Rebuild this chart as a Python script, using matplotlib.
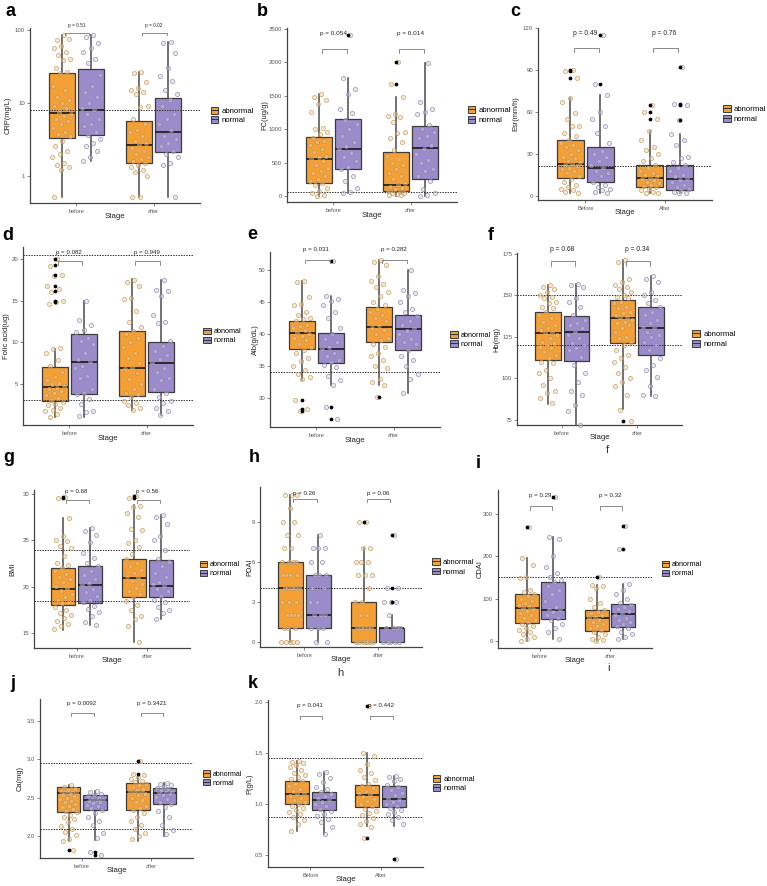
import numpy as np
import matplotlib
matplotlib.use("Agg")
import matplotlib.pyplot as plt
from matplotlib.patches import Patch
from matplotlib.lines import Line2D
from matplotlib.legend_handler import HandlerTuple

plt.rcParams["font.family"] = ["Liberation Sans", "DejaVu Sans"]

W, H = 767, 886
ORANGE = "#F5A035"
PURPLE = "#9C8BCB"
EDGE = "#3c3c3c"

# ---------------- data ----------------
# box stats per group: (q1, median, q3, whisker_low, whisker_high)
# group order: before-abnormal, before-normal, after-abnormal, after-normal

# a: CRP
a_bef_abn = [85, 72, 74, 60, 55, 50, 45, 40, 38, 30, 26, 25, 17, 15, 12, 11, 10, 9, 8.5, 7.5, 7, 6.5, 6, 5.5, 5,
             4.5, 4, 3.7, 3.5, 3, 2.5, 2.2, 2, 1.8, 1.5, 1.4, 1.3, 1.2, 0.5]
a_bef_nor = [85, 78, 65, 55, 50, 40, 35, 24, 17, 14, 12, 10, 8.5, 8, 7, 6, 5, 4.8, 4, 3.6, 3.2, 2.8, 2.5, 2.2, 1.8, 1.6]
a_aft_abn = [26, 25, 19, 16, 15, 14, 13, 9, 8.8, 6, 5, 4.2, 4, 3.5, 3, 2.8, 2.6, 2.4, 2.2, 2, 1.8, 1.7, 1.6, 1.5,
             1.4, 1.3, 1.2, 1.1, 1.0, 0.5, 0.5]
a_aft_nor = [68, 65, 47, 30, 23, 20, 15, 13, 11, 9, 7, 6, 5, 4.2, 3.5, 3.2, 2.8, 2.5, 2.2, 2, 1.8, 1.5, 1.4, 0.5]
a_box = [(3.3, 7.2, 25, 0.5, 85), (3.6, 8, 29, 1.6, 85), (1.5, 2.6, 5.6, 0.5, 26), (2.1, 4, 11.5, 0.5, 68)]
a_out = [[], [], [], []]
a_p = ["p = 0.51", "p = 0.02"]

# b: FC
b_bef_abn = [1520, 1480, 1440, 1380, 1260, 1020, 1000, 960, 920, 860, 820, 800, 760, 700, 660, 600, 580, 560, 520,
             460, 420, 380, 340, 300, 260, 220, 200, 160, 120, 80, 40, 10, 0]
b_bef_nor = [2400, 1760, 1600, 1520, 1300, 1240, 1130, 1080, 1000, 900, 800, 740, 700, 640, 580, 520, 440, 400, 300,
             220, 120, 60, 50]
b_aft_abn = [2000, 1680, 1480, 1230, 1200, 1180, 1100, 960, 940, 860, 800, 680, 600, 560, 500, 460, 400, 340, 300,
             250, 200, 160, 140, 120, 100, 80, 60, 50, 40, 30, 20, 10]
b_aft_nor = [1980, 1400, 1300, 1250, 1220, 1060, 1000, 950, 900, 860, 760, 700, 620, 540, 500, 400, 380, 300, 220,
             100, 50, 20, 0]
b_box = [(200, 560, 880, 0, 1520), (400, 700, 1150, 50, 1760), (80, 160, 660, 0, 1480), (260, 710, 1040, 0, 1980)]
b_out = [[], [2400], [1680, 2000], []]
b_p = ["p = 0.054", "p = 0.014"]

# c: Esr
c_bef_abn = [90, 89, 84, 70, 67, 59, 55, 50, 50, 45, 43, 40, 38, 36, 35, 33, 30, 28, 27, 25, 24, 23, 22, 21, 20, 19,
             18, 16, 14, 12, 10, 8, 6, 5, 4, 3, 2]
c_bef_nor = [115, 80, 72, 60, 55, 50, 45, 38, 32, 30, 28, 25, 22, 20, 18, 16, 14, 10, 8, 6, 5, 4, 3, 2]
c_aft_abn = [65, 60, 55, 46, 40, 35, 33, 30, 27, 25, 22, 20, 18, 16, 15, 14, 13, 12, 11, 10, 9, 8, 7, 6, 5, 4, 3, 2, 2]
c_aft_nor = [92, 66, 65, 54, 44, 40, 36, 28, 27, 24, 22, 20, 18, 15, 14, 12, 11, 10, 8, 6, 5, 4, 3, 2, 2]
c_box = [(13, 23, 40, 2, 70), (10, 20, 35, 2, 72), (6, 13, 22, 2, 46), (4, 12, 22, 2, 44)]
c_out = [[84, 89, 90], [80, 115], [55, 60, 65], [54, 65, 66, 92]]
c_p = ["p = 0.49", "p = 0.76"]

# d: Folic acid
d_bef_abn = [20, 19.1, 18, 17.9, 16.7, 16.4, 16, 15, 14.8, 14.6, 9.3, 9.2, 8.8, 7.9, 7.2, 6.5, 5.9, 5.5, 5.2, 5.0,
             4.8, 4.6, 4.4, 4.2, 4.0, 3.7, 3.4, 3.1, 2.9, 2.7, 2.5, 2.2, 2.0, 1.8, 1.5, 1.1]
d_bef_nor = [14.9, 12.7, 12.1, 11.5, 11.3, 10.5, 10.2, 9.8, 8.7, 8.0, 7.7, 7.2, 7.0, 6.0, 5.8, 4.5, 4.0, 3.8, 3.3,
             2.7, 1.8, 1.7, 1.2]
d_aft_abn = [17.5, 17.2, 16.8, 15.3, 15.2, 13.8, 12.5, 11.8, 11.4, 11.0, 10.5, 10.1, 9.5, 8.7, 8.2, 7.5, 7.0, 6.8,
             6.4, 5.6, 5.0, 4.5, 4.0, 3.8, 3.5, 3.0, 2.8, 2.5, 2.2, 2.0]
d_aft_nor = [17.5, 16.3, 16.1, 15.6, 13.3, 12.5, 12.3, 10.2, 9.6, 9.0, 8.5, 8.0, 7.5, 7.0, 6.5, 5.8, 5.5, 4.5, 4.0,
             3.5, 3.0, 2.8, 2.2, 1.8, 1.3]
d_box = [(3.0, 4.7, 7.1, 1.1, 9.2), (3.9, 7.7, 11.05, 1.1, 14.9), (3.6, 7.0, 11.4, 2.0, 17.6), (4.1, 7.6, 10.0, 1.3, 17.5)]
d_out = [[14.8, 15, 16.2, 16.7, 18, 19.2, 20], [], [], []]
d_p = ["p = 0.082", "p = 0.949"]

# e: Alb
e_bef_abn = [48.3, 48.2, 45.8, 44.7, 44.5, 43.5, 43.0, 42.6, 42.4, 42.0, 41.5, 41.2, 41.0, 40.6, 40.3, 40.0, 39.7,
             39.4, 39.0, 38.5, 38.0, 37.5, 37.0, 36.3, 35.7, 35.0, 34.3, 33.8, 33.3, 32.9, 29.6, 28.2, 27.9]
e_bef_nor = [51.5, 46.0, 45.5, 45.2, 44.5, 43.5, 42.5, 41.0, 40.0, 39.3, 38.8, 38.0, 37.7, 37.0, 36.6, 36.0, 35.6,
             35.2, 34.8, 33.4, 32.8, 32.0, 28.5, 26.7]
e_aft_abn = [51.7, 51.3, 50.8, 49.2, 48.3, 47.9, 47.4, 46.6, 46.0, 45.0, 44.5, 44.0, 43.5, 43.0, 42.5, 42.0, 41.5,
             41.0, 40.6, 40.0, 39.4, 39.0, 38.5, 38.0, 37.0, 36.5, 36.0, 35.0, 34.6, 33.0, 32.5, 32.0, 30.1]
e_aft_nor = [50.0, 47.0, 46.5, 46.0, 45.0, 44.0, 43.5, 42.8, 42.0, 41.5, 41.0, 40.5, 40.0, 39.2, 38.8, 38.5, 37.5,
             36.5, 36.0, 35.0, 33.8, 33.0, 30.8]
e_box = [(37.7, 40.1, 42.1, 32.8, 48.3), (35.5, 37.7, 40.1, 32.0, 46.0), (38.7, 41.1, 44.2, 32.0, 51.7),
         (37.5, 40.8, 43.0, 30.8, 50.0)]
e_out = [[27.9, 28.2, 29.6], [26.7, 28.5, 51.5], [30.1], []]
e_p = ["p = 0.031", "p = 0.282"]

# f: Hb
f_bef_abn = [156, 155, 154, 152, 150, 149, 148, 146, 145, 143, 142, 140, 138, 136, 134, 132, 130, 129, 128, 127, 126,
             124, 122, 121, 120, 119, 118, 116, 114, 112, 110, 109, 105, 103, 100, 96, 92, 91, 88, 85]
f_bef_nor = [156.7, 156, 155, 148, 146, 143, 138, 135, 133, 132, 130, 128, 126, 124, 121, 120, 118, 117, 113, 108,
             103, 98, 92, 90, 84, 80, 72]
f_aft_abn = [171, 170, 160, 158, 156, 155, 154, 152, 150, 149, 148, 146, 145, 143, 142, 140, 139, 138, 137, 136, 135,
             134, 133, 132, 130, 128, 125, 124, 122, 120, 117, 114, 112, 110, 107, 103, 100, 98, 95, 90, 81, 74]
f_aft_nor = [161.5, 160, 158, 152, 150, 147, 145, 143, 140, 138, 135, 133, 131, 130, 128, 126, 125, 122, 120, 117,
             112, 108, 105, 101, 95, 90, 89]
f_box = [(111, 127.5, 140, 84.6, 156), (110.4, 127.7, 137.5, 72, 156.7), (121, 136, 147, 81.5, 171),
         (114, 130, 142.7, 89, 161.5)]
f_out = [[], [], [74], []]
f_p = ["p = 0.68", "p = 0.34"]

# g: BMI
g_bef_abn = [29.7, 29.5, 27.4, 25.5, 25.0, 24.9, 24.4, 24.2, 23.3, 22.5, 22.3, 22.0, 21.7, 21.4, 21.0, 20.8, 20.5,
             20.1, 19.8, 19.5, 19.2, 18.9, 18.6, 18.4, 18.2, 17.8, 17.5, 17.2, 16.9, 16.6, 16.3, 16.0, 15.8, 15.4]
g_bef_nor = [26.3, 26.0, 25.6, 24.8, 23.6, 23.1, 22.5, 22.2, 21.7, 21.3, 20.8, 20.4, 20.2, 19.8, 19.4, 19.0, 18.6,
             18.3, 17.9, 17.6, 17.3, 16.8, 16.2, 15.9]
g_aft_abn = [29.8, 29.5, 28.7, 28.6, 27.9, 27.5, 26.2, 26.1, 25.0, 24.7, 24.3, 23.5, 23.0, 22.5, 22.2, 21.8, 21.5,
             21.2, 20.9, 20.6, 20.3, 19.9, 19.5, 19.2, 18.9, 18.5, 18.0, 17.5, 16.8, 16.5, 15.8, 14.0]
g_aft_nor = [27.7, 27.5, 26.7, 25.4, 25.0, 23.9, 23.0, 22.7, 22.2, 21.5, 21.0, 20.5, 20.3, 20.1, 19.8, 19.5, 19.0,
             18.6, 18.3, 17.8, 17.5, 17.2, 16.5]
g_box = [(18.0, 19.8, 22.0, 15.3, 27.4), (18.2, 20.2, 22.2, 15.9, 26.3), (18.9, 20.9, 23.0, 14.0, 28.75),
         (18.9, 20.1, 22.9, 16.5, 27.7)]
g_out = [[29.5, 29.7], [], [29.5, 29.8], []]
g_p = ["p = 0.68", "p = 0.56"]

# h: PDAI
h_bef_abn = [11, 11, 11, 10, 9, 9, 8, 8, 7, 7, 6, 6, 6, 6, 5, 5, 5, 5, 4, 4, 4, 4, 4, 3, 3, 3, 2, 2, 2, 2, 1, 1, 1,
             0, 0, 0, 0, 0]
h_bef_nor = [8, 7, 7, 7, 6, 6, 5, 5, 5, 4, 4, 3, 3, 2, 2, 2, 1, 1, 1, 0, 0]
h_aft_abn = [9, 9, 7, 7, 6, 6, 6, 5, 5, 5, 4, 3, 3, 2, 2, 1, 1, 1, 1, 1, 0, 0, 0, 0, 0, 0, 0]
h_aft_nor = [8, 4, 4, 3, 3, 3, 2, 1, 1, 1, 1, 0, 0, 0, 0, 0]
h_box = [(1, 4, 6, 0, 11), (1, 2, 5, 0, 8), (0, 1, 3, 0, 7), (0, 1, 1, 0, 2)]
h_out = [[], [], [9], [3, 4, 8]]
h_p = ["p = 0.26", "p = 0.06"]

# i: CDAI
i_bef_abn = [270, 196, 180, 150, 148, 120, 115, 110, 105, 100, 95, 90, 85, 82, 78, 75, 70, 65, 60, 55, 50, 45, 40,
             35, 30, 25, 20, 15, 10, 5, 0]
i_bef_nor = [340, 245, 240, 200, 175, 160, 150, 145, 140, 130, 120, 110, 95, 80, 75, 72, 68, 60, 55, 50, 40, 30, 20, 5]
i_aft_abn = [150, 133, 130, 125, 100, 90, 80, 73, 68, 65, 60, 56, 54, 50, 45, 40, 35, 30, 25, 20, 15, 10, 5, 2, 0]
i_aft_nor = [272, 218, 135, 120, 110, 100, 90, 85, 80, 75, 70, 65, 60, 55, 50, 45, 40, 35, 30, 20, 15, 10, 5]
i_box = [(42, 78, 110, 0, 196), (52, 73, 140, 4, 245), (24, 54, 73, 0, 133), (32, 64, 86, 5, 135)]
i_out = [[270], [340], [150], [218, 272]]
i_p = ["p = 0.29", "p = 0.32"]

# j: Ca
j_bef_abn = [2.66, 2.64, 2.62, 2.60, 2.59, 2.58, 2.57, 2.56, 2.55, 2.54, 2.52, 2.50, 2.48, 2.46, 2.44, 2.42, 2.40,
             2.38, 2.35, 2.33, 2.31, 2.28, 2.25, 2.22, 2.18, 2.14, 2.10, 2.06, 2.02, 1.97, 1.94, 1.83]
j_bef_nor = [2.59, 2.57, 2.55, 2.53, 2.52, 2.50, 2.49, 2.48, 2.47, 2.46, 2.45, 2.43, 2.41, 2.39, 2.37, 2.34, 2.30,
             2.25, 2.20, 2.15, 2.05, 1.98, 1.80, 1.76]
j_aft_abn = [2.98, 2.81, 2.80, 2.77, 2.74, 2.72, 2.70, 2.68, 2.66, 2.64, 2.62, 2.60, 2.59, 2.58, 2.57, 2.55, 2.53,
             2.50, 2.47, 2.44, 2.40, 2.37, 2.34, 2.30, 2.25, 2.20, 2.15, 2.10, 2.05, 2.00, 1.96]
j_aft_nor = [2.69, 2.68, 2.66, 2.64, 2.63, 2.62, 2.60, 2.58, 2.57, 2.56, 2.55, 2.53, 2.51, 2.48, 2.45, 2.42, 2.38,
             2.33, 2.25, 2.15, 2.08, 2.03]
j_box = [(2.31, 2.56, 2.64, 1.94, 2.66), (2.34, 2.47, 2.53, 1.95, 2.59), (2.34, 2.58, 2.69, 1.94, 2.78),
         (2.42, 2.56, 2.63, 2.01, 2.69)]
j_out = [[1.83], [1.76, 1.80], [2.81, 2.98], []]
j_p = ["p = 0.0092", "p = 0.3421"]

# k: P
k_bef_abn = [1.42, 1.41, 1.40, 1.38, 1.36, 1.33, 1.30, 1.28, 1.26, 1.24, 1.22, 1.20, 1.18, 1.15, 1.13, 1.11, 1.10,
             1.08, 1.06, 1.04, 1.02, 1.00, 0.98, 0.96, 0.94, 0.92, 0.90, 0.87, 0.84, 0.80, 0.73]
k_bef_nor = [1.31, 1.29, 1.25, 1.21, 1.17, 1.15, 1.12, 1.10, 1.08, 1.06, 1.04, 1.02, 1.00, 0.98, 0.95, 0.93, 0.90,
             0.88, 0.85, 0.82, 0.77, 0.70]
k_aft_abn = [1.96, 1.50, 1.47, 1.39, 1.33, 1.30, 1.26, 1.23, 1.20, 1.18, 1.16, 1.13, 1.11, 1.09, 1.07, 1.05, 1.03,
             1.00, 0.98, 0.95, 0.93, 0.91, 0.89, 0.86, 0.83, 0.80, 0.77, 0.66]
k_aft_nor = [1.27, 1.26, 1.24, 1.22, 1.19, 1.17, 1.14, 1.11, 1.09, 1.06, 1.04, 1.02, 1.00, 0.98, 0.96, 0.94, 0.92,
             0.90, 0.87, 0.84, 0.80, 0.46]
k_box = [(1.0, 1.10, 1.225, 0.73, 1.42), (0.94, 1.04, 1.12, 0.70, 1.31), (0.97, 1.09, 1.19, 0.78, 1.50),
         (0.97, 1.05, 1.18, 0.78, 1.27)]
k_out = [[], [], [0.66, 1.96], [0.46]]
k_p = ["p = 0.041", "p = 0.442"]

# ---------------- layout / styling per panel ----------------
# rect in pixels: (left, top, right, bottom)
panels = [
    dict(key="a", pts=[a_bef_abn, a_bef_nor, a_aft_abn, a_aft_nor], box=a_box, out=a_out, p=a_p,
         rect=(30, 28, 200, 203), ylim=(0.42, 105), yticks=[1, 10, 100], log=True, hl=[8],
         br=(90, 84, 112), ylabel="CRP(mg/L)", ylx=8, xt=["before", "after"], letter=(10, 12),
         psize=3.4, legsize=5.6),
    dict(key="b", pts=[b_bef_abn, b_bef_nor, b_aft_abn, b_aft_nor], box=b_box, out=b_out, p=b_p,
         rect=(287, 28, 457, 202), ylim=(-90, 2510), yticks=[0, 500, 1000, 1500, 2000, 2500], hl=[60],
         br=(2195, 2130, 2430), ylabel="FC(ug/g)", ylx=265, xt=["before", "after"], letter=(262, 12),
         psize=4.6, legsize=5.6),
    dict(key="c", pts=[c_bef_abn, c_bef_nor, c_aft_abn, c_aft_nor], box=c_box, out=c_out, p=c_p,
         rect=(538, 28, 712, 200), ylim=(-3, 120), yticks=[0, 30, 60, 90, 120], hl=[21],
         br=(105.5, 103, 116), ylabel="Esr(mm/h)", ylx=516, xt=["Before", "After"], letter=(515, 12),
         psize=4.8, legsize=5.6),
    dict(key="d", pts=[d_bef_abn, d_bef_nor, d_aft_abn, d_aft_nor], box=d_box, out=d_out, p=d_p,
         rect=(23, 247, 193, 425), ylim=(0.15, 21.4), yticks=[5, 10, 15, 20], hl=[20.5, 3.1],
         br=(19.7, 19.2, 20.75), ylabel="Folic acid(ug)", ylx=7, xt=["before", "after"], letter=(8, 235),
         psize=4.4, legsize=5.2, leg=["abnomal", "normal"]),
    dict(key="e", pts=[e_bef_abn, e_bef_nor, e_aft_abn, e_aft_nor], box=e_box, out=e_out, p=e_p,
         rect=(270, 252, 440, 427), ylim=(25.4, 52.9), yticks=[30, 35, 40, 45, 50], hl=[34],
         br=(51.7, 51.1, 53.3), ylabel="Alb(g/dL)", ylx=255, xt=["before", "after"], letter=(252, 234),
         psize=4.4, legsize=5.2),
    dict(key="f", pts=[f_bef_abn, f_bef_nor, f_aft_abn, f_aft_nor], box=f_box, out=f_out, p=f_p,
         rect=(517, 253, 682, 425), ylim=(71.8, 175.4), yticks=[75, 100, 125, 150, 175], hl=[150, 120],
         br=(170.5, 167.5, 177.5), ylabel="Hb(mg)", ylx=497, xt=["before", "after"], letter=(491, 235),
         psize=4.8, legsize=5.6),
    dict(key="g", pts=[g_bef_abn, g_bef_nor, g_aft_abn, g_aft_nor], box=g_box, out=g_out, p=g_p,
         rect=(34, 490, 190, 648), ylim=(13.4, 30.4), yticks=[15, 20, 25, 30], hl=[23.9, 18.5],
         br=(29.35, 29.0, 30.25), ylabel="BMI", ylx=13, xt=["before", "after"], letter=(9, 458),
         psize=4.4, legsize=5.2),
    dict(key="h", pts=[h_bef_abn, h_bef_nor, h_aft_abn, h_aft_nor], box=h_box, out=h_out, p=h_p,
         rect=(260, 487, 422, 647), ylim=(-0.4, 11.6), yticks=[0, 3, 6, 9], hl=[4],
         br=(10.7, 10.45, 11.15), ylabel="PDAI", ylx=250, xt=["before", "after"], letter=(254, 458),
         psize=4.4, legsize=5.4),
    dict(key="i", pts=[i_bef_abn, i_bef_nor, i_aft_abn, i_aft_nor], box=i_box, out=i_out, p=i_p,
         rect=(498, 490, 652, 648), ylim=(-17, 357), yticks=[0, 100, 200, 300], hl=[150],
         br=(320, 310, 344), ylabel="CDAI", ylx=480, xt=["before", "after"], letter=(478, 463),
         psize=4.4, legsize=5.2),
    dict(key="j", pts=[j_bef_abn, j_bef_nor, j_aft_abn, j_aft_nor], box=j_box, out=j_out, p=j_p,
         rect=(40, 699, 193, 858), ylim=(1.72, 3.78), yticks=[2.0, 2.5, 3.0, 3.5], hl=[2.95, 2.1],
         br=(3.60, 3.56, 3.72), ylabel="Ca(mg)", ylx=20, xt=["before", "after"], letter=(13, 683),
         psize=4.4, legsize=5.0),
    dict(key="k", pts=[k_bef_abn, k_bef_nor, k_aft_abn, k_aft_nor], box=k_box, out=k_out, p=k_p,
         rect=(268, 700, 423, 867), ylim=(0.38, 2.02), yticks=[0.5, 1.0, 1.5, 2.0], hl=[1.45, 0.87],
         br=(1.86, 1.83, 1.97), ylabel="P(g/L)", ylx=250, xt=["Before", "After"], letter=(253, 683),
         psize=4.4, legsize=5.4),
]

captions = [("f", 607, 450), ("h", 340, 673), ("i", 609, 668)]

DODGE = 0.19
BOXW = 0.34


def rect_px(l, t, r, b):
    return [l / W, 1 - b / H, (r - l) / W, (b - t) / H]


def jitter(n, width=0.25):
    # deterministic spread of points around the box centre
    return ((np.arange(n) + 1) * 0.6180339887 % 1 - 0.5) * width


fig = plt.figure(figsize=(W / 100, H / 100), dpi=100)

for cfg in panels:
    ax = fig.add_axes(rect_px(*cfg["rect"]))
    pos = [1 - DODGE, 1 + DODGE, 2 - DODGE, 2 + DODGE]
    cols = [ORANGE, PURPLE, ORANGE, PURPLE]

    stats = []
    for (q1, med, q3, lo, hi), fl in zip(cfg["box"], cfg["out"]):
        stats.append(dict(q1=q1, med=med, q3=q3, whislo=lo, whishi=hi, fliers=fl))
    bp = ax.bxp(stats, positions=pos, widths=BOXW, patch_artist=True, showcaps=False,
                boxprops=dict(edgecolor=EDGE, linewidth=0.9),
                medianprops=dict(color="#222222", linewidth=1.3),
                whiskerprops=dict(color="#4a4a4a", linewidth=1.1),
                flierprops=dict(marker="o", markersize=1.7, markerfacecolor="black",
                                markeredgecolor="black", linestyle="none"))
    for patch, c in zip(bp["boxes"], cols):
        patch.set_facecolor(c)
    for w in bp["whiskers"]:
        w.set_zorder(1)
    for b in bp["boxes"]:
        b.set_zorder(2)
    for m in bp["medians"]:
        m.set_zorder(3)
    for f in bp["fliers"]:
        f.set_zorder(5)

    # jittered raw points
    for k, (vals, c) in enumerate(zip(cfg["pts"], cols)):
        xs = pos[k] + jitter(len(vals))
        if c == ORANGE:
            fc, ec = (0.96, 0.80, 0.58, 0.45), (0.74, 0.58, 0.36, 0.85)
        else:
            fc, ec = (0.82, 0.80, 0.92, 0.45), (0.52, 0.52, 0.64, 0.85)
        ax.scatter(xs, vals, s=9, facecolors=fc, edgecolors=ec, linewidths=0.5, zorder=4, clip_on=False)

    if cfg.get("log"):
        ax.set_yscale("log")
        ax.minorticks_off()
    ax.set_ylim(*cfg["ylim"])
    ax.set_xlim(0.4, 2.6)
    ax.set_yticks(cfg["yticks"])
    ax.set_yticklabels([("%g" % v) if not isinstance(v, float) else "%.1f" % v for v in cfg["yticks"]])
    ax.set_xticks([1, 2])
    ax.set_xticklabels(cfg["xt"])
    ax.tick_params(axis="both", labelsize=4.3, length=2, width=0.5, colors="#555555", pad=1.5)
    ax.tick_params(axis="x", labelsize=4.0, pad=2.5)
    ax.set_xlabel("Stage", fontsize=5.6, color="#222222")
    ax.xaxis.set_label_coords(0.5, -0.055)

    for sp in ["top", "right"]:
        ax.spines[sp].set_visible(False)
    for sp in ["left", "bottom"]:
        ax.spines[sp].set_color("#444444")
        ax.spines[sp].set_linewidth(0.9)

    for yv in cfg["hl"]:
        ax.axhline(yv, color="#333333", linestyle=(0, (1.5, 1.2)), linewidth=0.7, zorder=3)

    # comparison brackets and p values
    ybr, ytk, ytx = cfg["br"]
    for s, ptxt in zip([1, 2], cfg["p"]):
        x0, x1 = s - 0.15, s + 0.17
        ax.plot([x0, x0, x1, x1], [ytk, ybr, ybr, ytk], color="#777777", linewidth=0.6,
                clip_on=False, zorder=6)
        ax.text(s, ytx, ptxt, ha="center", va="center", fontsize=cfg["psize"], color="#222222",
                clip_on=False, zorder=7)

    # legend: box key with median line overlaid
    labels = cfg.get("leg", ["abnormal", "normal"])
    handles = []
    for c in [ORANGE, PURPLE]:
        handles.append((Patch(facecolor=c, edgecolor=EDGE, linewidth=0.7),
                        Line2D([], [], color="#333333", linewidth=0.7)))
    ax.legend(handles, labels, handler_map={tuple: HandlerTuple(ndivide=1)},
              loc="center left", bbox_to_anchor=(1.04, 0.5), frameon=False,
              fontsize=cfg["legsize"], handlelength=1.0, handleheight=1.0,
              handletextpad=0.4, labelspacing=0.2, borderpad=0)

    # y label and panel letter placed in figure pixels
    l, t, r, b = cfg["rect"]
    fig.text(cfg["ylx"] / W, 1 - (t + b) / 2 / H, cfg["ylabel"], rotation=90, ha="center", va="center",
             fontsize=5.4, color="#222222")
    lx, ly = cfg["letter"]
    fig.text(lx / W, 1 - ly / H, cfg["key"], ha="center", va="center", fontsize=13, fontweight="bold")

for txt, x, y in captions:
    fig.text(x / W, 1 - y / H, txt, ha="center", va="center", fontsize=8, color="#333333")

fig.savefig("out.png", dpi=100)
